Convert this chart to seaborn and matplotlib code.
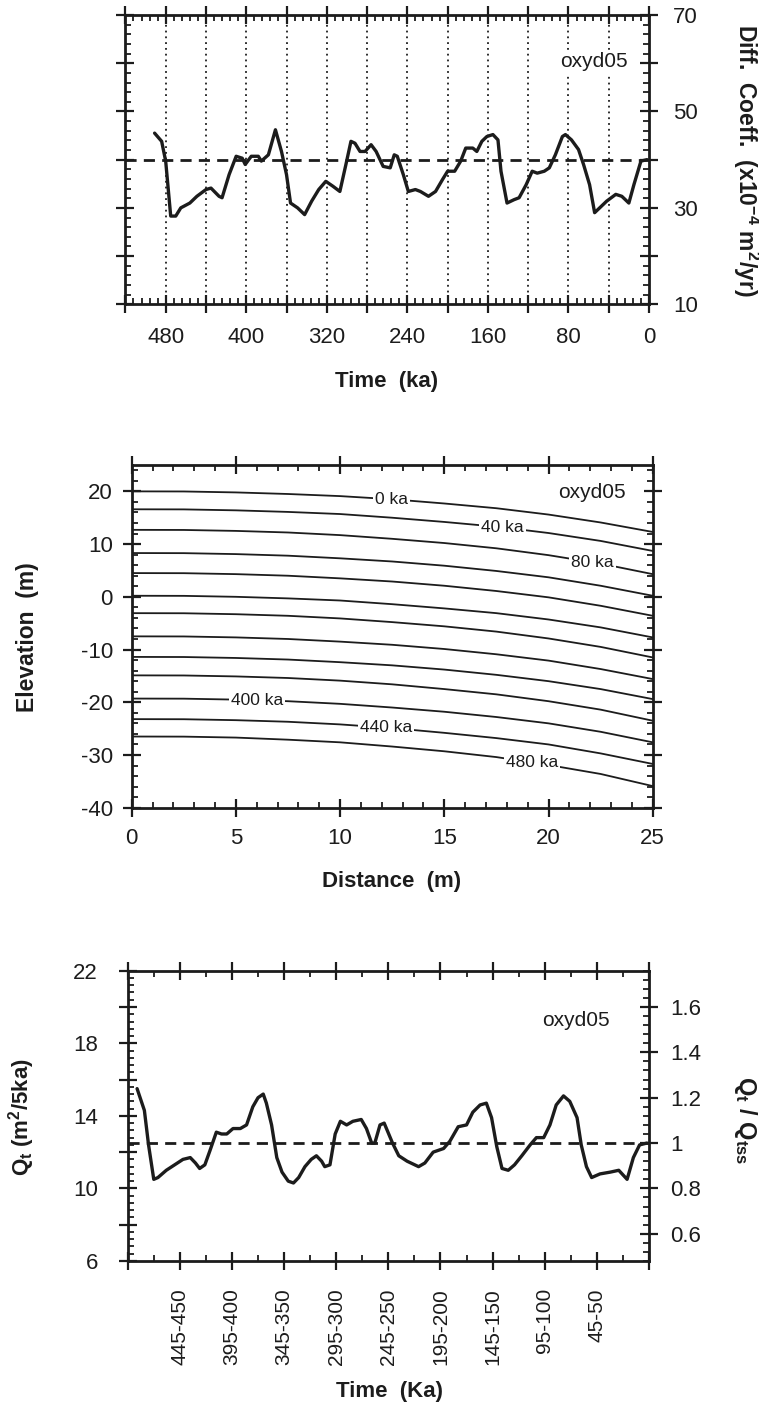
import numpy as np
import pandas as pd
import matplotlib
matplotlib.use("Agg")
import matplotlib.pyplot as plt
from matplotlib.ticker import MultipleLocator, FuncFormatter
import seaborn as sns

# ---------------- data ----------------
# Diffusion coefficient history (x1e-4 m^2/yr)
diff_time_ka = [491, 484, 480, 475, 470, 465, 456, 449, 440, 435, 427, 424,
                417, 410, 404, 401, 395, 388, 385, 378, 371, 365, 360, 356,
                349, 342, 335, 328, 321, 314, 307, 301, 296, 292, 287, 282,
                276, 271, 264, 257, 253, 250, 244, 239, 232, 227, 219, 212,
                205, 200, 193, 187, 182, 175, 171, 166, 161, 155, 150, 147,
                141, 134, 129, 122, 116, 111, 104, 99, 93, 86, 83, 77,
                70, 65, 59, 54, 49, 42, 33, 27, 20, 15, 8, 2]
diff_coeff = [45.5, 43.8, 39.7, 28.3, 28.3, 30.0, 31.0, 32.4, 33.8, 34.1, 32.4, 32.1,
              36.9, 40.7, 40.3, 39.0, 40.7, 40.7, 39.7, 41.0, 46.2, 41.7, 36.9, 31.0,
              30.0, 28.6, 31.4, 33.8, 35.5, 34.5, 33.4, 39.0, 43.8, 43.4, 41.7, 41.7,
              43.1, 41.7, 38.6, 38.3, 41.0, 40.7, 36.9, 33.4, 33.8, 33.4, 32.4, 33.4,
              35.9, 37.6, 37.6, 39.7, 42.4, 42.4, 41.7, 43.8, 44.8, 45.2, 44.1, 37.6,
              31.0, 31.7, 32.1, 34.8, 37.6, 37.2, 37.6, 38.3, 41.0, 44.8, 45.2, 44.1,
              42.1, 39.0, 34.8, 29.0, 30.0, 31.4, 32.8, 32.4, 31.0, 34.8, 39.7, 40.0]
diff_reference = 40

# Scarp elevation profiles, one every 40 ka
profile_distance_m = [0, 2.5, 5, 7.5, 10, 12.5, 15, 17.5, 20, 22.5, 25]
profile_age_ka = [0, 40, 80, 120, 160, 200, 240, 280, 320, 360, 400, 440, 480]
profile_elev_m = [
    [20.0, 19.98, 19.8, 19.5, 19.1, 18.5, 17.7, 16.8, 15.6, 14.1, 12.3],
    [16.6, 16.58, 16.4, 16.1, 15.7, 15.0, 14.2, 13.3, 12.1, 10.6, 8.7],
    [12.7, 12.68, 12.5, 12.2, 11.7, 11.0, 10.2, 9.2, 7.9, 6.3, 4.3],
    [8.3, 8.28, 8.1, 7.8, 7.3, 6.7, 5.9, 4.9, 3.7, 2.1, 0.2],
    [4.5, 4.48, 4.3, 4.0, 3.5, 2.9, 2.1, 1.1, -0.1, -1.7, -3.6],
    [0.2, 0.18, 0.0, -0.3, -0.7, -1.4, -2.2, -3.1, -4.3, -5.8, -7.7],
    [-3.1, -3.12, -3.3, -3.6, -4.1, -4.8, -5.6, -6.6, -7.9, -9.5, -11.5],
    [-7.5, -7.52, -7.7, -8.0, -8.5, -9.1, -9.9, -10.9, -12.1, -13.7, -15.6],
    [-11.4, -11.42, -11.6, -11.9, -12.4, -13.0, -13.8, -14.8, -16.0, -17.5, -19.4],
    [-14.9, -14.92, -15.1, -15.4, -15.9, -16.6, -17.5, -18.5, -19.8, -21.4, -23.5],
    [-19.3, -19.32, -19.5, -19.8, -20.3, -21.0, -21.8, -22.8, -24.0, -25.6, -27.6],
    [-23.2, -23.22, -23.4, -23.7, -24.2, -24.9, -25.8, -26.8, -28.0, -29.7, -31.7],
    [-26.5, -26.52, -26.7, -27.1, -27.6, -28.4, -29.3, -30.4, -31.9, -33.6, -35.9],
]
labelled_ages_ka = [0, 40, 80, 400, 440, 480]

# Sediment flux per 5 ka bin (m^2/5ka)
flux_time_ka = [491, 484, 480, 475, 471, 463, 455, 447, 440, 435, 431, 426,
                421, 415, 410, 405, 399, 392, 386, 380, 375, 370, 367, 362,
                357, 352, 346, 341, 336, 330, 324, 319, 314, 311, 306, 301,
                296, 290, 284, 276, 271, 266, 263, 258, 254, 246, 240, 232,
                221, 215, 207, 197, 191, 183, 175, 169, 162, 156, 151, 146,
                141, 135, 129, 122, 114, 108, 101, 95, 89, 82, 76, 69,
                65, 60, 55, 47, 37, 29, 21, 15, 9, 2]
flux_q = [15.5, 14.3, 12.4, 10.5, 10.6, 11.0, 11.3, 11.6, 11.7, 11.4, 11.1, 11.3,
          12.1, 13.1, 13.0, 13.0, 13.3, 13.3, 13.5, 14.5, 15.0, 15.2, 14.7, 13.5,
          11.7, 10.9, 10.4, 10.3, 10.6, 11.2, 11.6, 11.8, 11.5, 11.2, 11.3, 13.0,
          13.7, 13.5, 13.7, 13.8, 13.3, 12.5, 12.5, 13.5, 13.6, 12.5, 11.8, 11.5,
          11.2, 11.4, 12.0, 12.2, 12.6, 13.4, 13.5, 14.2, 14.6, 14.7, 13.9, 12.3,
          11.1, 11.0, 11.3, 11.8, 12.4, 12.8, 12.8, 13.5, 14.6, 15.1, 14.8, 13.9,
          12.4, 11.2, 10.6, 10.8, 10.9, 11.0, 10.5, 11.7, 12.4, 12.5]
flux_steady = 12.5
flux_bin_labels = ["445-450", "395-400", "345-350", "295-300", "245-250",
                   "195-200", "145-150", "95-100", "45-50"]
run_name = "oxyd05"

# ---------------- style ----------------
sns.set_style("ticks")
INK = "#1c1c1c"
plt.rcParams["font.family"] = ["Liberation Sans", "DejaVu Sans"]
plt.rcParams["mathtext.default"] = "regular"
plt.rcParams["axes.unicode_minus"] = False
plt.rcParams.update({
    "text.color": INK, "axes.edgecolor": INK, "axes.labelcolor": INK,
    "xtick.color": INK, "ytick.color": INK,
})

W, H = 759, 1407
fig = plt.figure(figsize=(W / 100, H / 100), dpi=100)


def box(left, top, right, bottom):
    return [left / W, 1 - bottom / H, (right - left) / W, (bottom - top) / H]


def fx(px):
    return px / W


def fy(py):
    return 1 - py / H


TICK_FS = 16
LABEL_FS = 16


def frame(ax, lw=2.0):
    for s in ax.spines.values():
        s.set_visible(True)
        s.set_linewidth(lw)
        s.set_color(INK)
    ax.tick_params(which="major", direction="inout", length=13, width=1.6,
                   top=True, bottom=True, left=True, right=True,
                   labelsize=TICK_FS)
    ax.tick_params(which="minor", direction="in", length=4.5, width=1.3,
                   top=True, bottom=True, left=True, right=True)


# ---------- panel 1: diffusion coefficient ----------
ax1 = fig.add_axes(box(125.4, 15, 649, 304.3))
diff_df = pd.DataFrame({"time": diff_time_ka, "D": diff_coeff})
for t in range(40, 481, 40):
    ax1.axvline(t, color=INK, lw=1.3, ls=(0, (1, 2.2)), zorder=1)
ax1.axhline(diff_reference, color=INK, lw=2.0, ls=(0, (4, 2.6)), zorder=2)
sns.lineplot(data=diff_df, x="time", y="D", ax=ax1, color=INK, lw=2.4,
             estimator=None, sort=False, zorder=3)
ax1.set_xlim(520, 0)
ax1.set_ylim(10, 70)
frame(ax1)
ax1.xaxis.set_major_locator(MultipleLocator(40))
ax1.xaxis.set_minor_locator(MultipleLocator(8))
ax1.yaxis.set_major_locator(MultipleLocator(10))
ax1.yaxis.set_minor_locator(MultipleLocator(2))
ax1.xaxis.set_major_formatter(FuncFormatter(
    lambda v, p: f"{int(round(v))}" if int(round(v)) % 80 == 0 else ""))
ax1.yaxis.set_major_formatter(FuncFormatter(
    lambda v, p: f"{int(round(v))}" if int(round(v)) % 20 == 10 else ""))
ax1.tick_params(axis="y", labelleft=False, labelright=True, pad=11)
ax1.tick_params(axis="x", pad=10)
ax1.set_xlabel("")
ax1.set_ylabel("")
ax1.text(0.895, 0.84, run_name, transform=ax1.transAxes, fontsize=15,
         ha="center", va="center", zorder=4,
         bbox=dict(facecolor="white", edgecolor="none", pad=1.5))
fig.text(fx(387), fy(382), "Time  (ka)", ha="center", va="center",
         fontsize=LABEL_FS, fontweight="bold")
fig.text(fx(746), fy(160), "Diff.  Coeff.  (x10$^{-4}$ m$^2$/yr)",
         ha="center", va="center", rotation=270, fontsize=LABEL_FS + 0.5,
         fontweight="bold")

# ---------- panel 2: elevation profiles ----------
ax2 = fig.add_axes(box(131.7, 465, 652.7, 807.7))
rows = []
for age, elev in zip(profile_age_ka, profile_elev_m):
    for d, z in zip(profile_distance_m, elev):
        rows.append({"age": age, "distance": d, "elevation": z})
prof_df = pd.DataFrame(rows)
sns.lineplot(data=prof_df, x="distance", y="elevation", units="age",
             estimator=None, sort=False, color=INK, lw=1.3, ax=ax2, zorder=2)
label_at_m = {0: 12.45, 40: 17.8, 80: 22.1, 400: 6.0, 440: 12.2, 480: 19.2}
for age in labelled_ages_ka:
    elev = profile_elev_m[profile_age_ka.index(age)]
    d = label_at_m[age]
    z = np.interp(d, profile_distance_m, elev)
    ax2.text(d, z, f"{age} ka", fontsize=12.5, ha="center", va="center",
             zorder=4, bbox=dict(facecolor="white", edgecolor="none", pad=1.5))
ax2.set_xlim(0, 25)
ax2.set_ylim(-40, 25)
frame(ax2)
ax2.xaxis.set_major_locator(MultipleLocator(5))
ax2.xaxis.set_minor_locator(MultipleLocator(1))
ax2.yaxis.set_major_locator(MultipleLocator(10))
ax2.yaxis.set_minor_locator(MultipleLocator(2))
ax2.tick_params(axis="y", pad=7)
ax2.tick_params(axis="x", pad=8)
ax2.set_xlabel("")
ax2.set_ylabel("")
ax2.text(0.883, 0.92, run_name, transform=ax2.transAxes, fontsize=15,
         ha="center", va="center", zorder=4)
fig.text(fx(392), fy(882), "Distance  (m)", ha="center", va="center",
         fontsize=LABEL_FS, fontweight="bold")
fig.text(fx(28), fy(637), "Elevation  (m)", ha="center", va="center",
         rotation=90, fontsize=LABEL_FS + 0.5, fontweight="bold")

# ---------- panel 3: sediment flux ----------
ax3 = fig.add_axes(box(127.7, 970.7, 649, 1261))
flux_df = pd.DataFrame({"time": flux_time_ka, "Q": flux_q})
ax3.axhline(flux_steady, color=INK, lw=2.0, ls=(0, (4, 2.6)), zorder=2)
sns.lineplot(data=flux_df, x="time", y="Q", ax=ax3, color=INK, lw=2.4,
             estimator=None, sort=False, zorder=3)
ax3.set_xlim(500, 0)
ax3.set_ylim(6, 22)
frame(ax3)
ax3.tick_params(right=False, which="both")
bin_end = [int(s.split("-")[1]) for s in flux_bin_labels]
ax3.set_xticks(list(range(0, 501, 50)))
ax3.set_xticklabels([flux_bin_labels[bin_end.index(v)] if v in bin_end else ""
                     for v in range(0, 501, 50)], rotation=90, fontsize=15)
ax3.xaxis.set_minor_locator(MultipleLocator(25))
ax3.yaxis.set_major_locator(MultipleLocator(2))
ax3.yaxis.set_minor_locator(MultipleLocator(0.4))
ax3.yaxis.set_major_formatter(FuncFormatter(
    lambda v, p: f"{int(round(v))}" if int(round(v)) % 4 == 2 else ""))
ax3.tick_params(axis="y", pad=15)
ax3.tick_params(axis="x", pad=13)
ax3.set_xlabel("")
ax3.set_ylabel("")
ax3.text(0.86, 0.83, run_name, transform=ax3.transAxes, fontsize=15,
         ha="center", va="center", zorder=4)

ax3r = ax3.twinx()
ax3r.set_ylim(6 / flux_steady, 22 / flux_steady)
ax3r.set_yticks([0.6, 0.8, 1.0, 1.2, 1.4, 1.6])
ax3r.set_yticklabels(["0.6", "0.8", "1", "1.2", "1.4", "1.6"])
ax3r.yaxis.set_minor_locator(MultipleLocator(0.04))
for s in ax3r.spines.values():
    s.set_visible(False)
ax3r.tick_params(which="major", direction="inout", length=13, width=1.6,
                 right=True, left=False, labelsize=TICK_FS, pad=9)
ax3r.tick_params(which="minor", direction="in", length=4.5, width=1.3,
                 right=True, left=False)
ax3r.grid(False)
fig.text(fx(390), fy(1392), "Time  (Ka)", ha="center", va="center",
         fontsize=LABEL_FS, fontweight="bold")
fig.text(fx(22), fy(1117), "Q$_t$ (m$^2$/5ka)", ha="center", va="center",
         rotation=90, fontsize=LABEL_FS, fontweight="bold")
fig.text(fx(745), fy(1120), "Q$_t$ / Q$_{tss}$", ha="center", va="center",
         rotation=270, fontsize=LABEL_FS + 1, fontweight="bold")

fig.savefig("out.png", dpi=100, facecolor="white")
